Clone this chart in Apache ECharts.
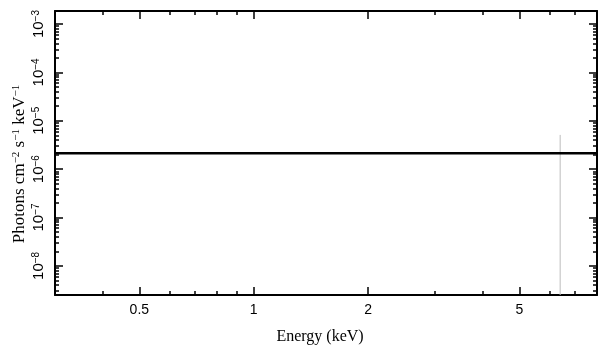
<!DOCTYPE html>
<html><head><meta charset="utf-8">
<script src="https://cdn.jsdelivr.net/npm/echarts@6/dist/echarts.min.js"></script>
<style>html,body{margin:0;padding:0;background:#fff}#c{width:609px;height:357px}</style>
</head><body><div id="c"></div>
<script>
// Data
const xRange = [0.3, 8];
const yRange = [2.5e-9, 1.86e-3];
const xMajorTicks = [0.5, 1, 2, 5];
const xMinorTicks = [0.4, 0.6, 0.7, 0.8, 0.9, 3, 4, 6, 7, 8];
const yMajorTicks = [1e-8, 1e-7, 1e-6, 1e-5, 1e-4, 1e-3];
const yMinorTicks = [];
for (let e = -9; e <= -3; e++) for (let m = 2; m <= 9; m++) yMinorTicks.push(m * Math.pow(10, e));
const modelEnergy = [0.3, 8];
const modelFlux = [2.13e-6, 2.13e-6];
const lineEnergy = [6.4, 6.4];
const lineFlux = [2.5e-9, 5.1e-6];

const serif = 'Liberation Serif';
const sans = 'Liberation Sans';
function pairs(xs, ys) { return xs.map((x, i) => [x, ys[i]]); }
function supLabel(v) {
  const e = Math.round(Math.log10(v));
  return '{b|10}{s|\u2212' + Math.abs(e) + '}';
}
const baseX = {
  type: 'log', logBase: 10, min: xRange[0], max: xRange[1],
  splitLine: { show: false }, axisLabel: { show: false },
  axisLine: { show: false }
};
const baseY = {
  type: 'log', logBase: 10, min: yRange[0], max: yRange[1],
  splitLine: { show: false }, axisLabel: { show: false },
  axisLine: { show: false }
};
const tickStyle = { color: '#000', width: 1.5 };
const xAxes = [
  Object.assign({}, baseX, {
    position: 'bottom',
    axisLine: { show: true, onZero: false, lineStyle: { color: '#000', width: 2 } },
    axisTick: { inside: true, length: 8, customValues: xMajorTicks, lineStyle: tickStyle },
    axisLabel: { show: true, customValues: xMajorTicks, margin: 8, color: '#000', fontFamily: sans, fontSize: 14,
      formatter: v => String(v) },
    name: 'Energy (keV)', nameLocation: 'middle', nameGap: 34, nameMoveOverlap: false,
    nameTextStyle: { fontFamily: serif, fontSize: 16, color: '#000', padding: [0, 12, 0, 0] }
  }),
  Object.assign({}, baseX, { position: 'bottom',
    axisTick: { inside: true, length: 4, customValues: xMinorTicks, lineStyle: tickStyle } }),
  Object.assign({}, baseX, { position: 'top',
    axisLine: { show: true, onZero: false, lineStyle: { color: '#000', width: 2 } },
    axisTick: { inside: true, length: 8, customValues: xMajorTicks, lineStyle: tickStyle } }),
  Object.assign({}, baseX, { position: 'top',
    axisTick: { inside: true, length: 4, customValues: xMinorTicks, lineStyle: tickStyle } })
];
const yAxes = [
  Object.assign({}, baseY, {
    position: 'left',
    axisLine: { show: true, onZero: false, lineStyle: { color: '#000', width: 2 } },
    axisTick: { inside: true, length: 8, customValues: yMajorTicks, lineStyle: tickStyle },
    axisLabel: { show: true, customValues: yMajorTicks, rotate: 90, margin: 9, color: '#000',
      formatter: supLabel,
      rich: { b: { fontFamily: sans, fontSize: 15, color: '#000' },
              s: { fontFamily: sans, fontSize: 10, color: '#000', verticalAlign: 'top', padding: [0, 0, 3, 0] } } },
    name: '{t|Photons cm}{s|\u22122}{t| s}{s|\u22121}{t| keV}{s|\u22121}',
    nameLocation: 'middle', nameGap: 27, nameRotate: 90, nameMoveOverlap: false,
    nameTextStyle: { padding: [0, 22, 0, 0], rich: { t: { fontFamily: serif, fontSize: 17, color: '#000' },
      s: { fontFamily: serif, fontSize: 11, color: '#000', verticalAlign: 'top', padding: [0, 0, 3, 0] } } }
  }),
  Object.assign({}, baseY, { position: 'left',
    axisTick: { inside: true, length: 4, customValues: yMinorTicks, lineStyle: tickStyle } }),
  Object.assign({}, baseY, { position: 'right',
    axisLine: { show: true, onZero: false, lineStyle: { color: '#000', width: 2 } },
    axisTick: { inside: true, length: 8, customValues: yMajorTicks, lineStyle: tickStyle } }),
  Object.assign({}, baseY, { position: 'right',
    axisTick: { inside: true, length: 4, customValues: yMinorTicks, lineStyle: tickStyle } })
];
const chart = echarts.init(document.getElementById('c'), null, { renderer: 'canvas' });
chart.setOption({
  animation: false,
  backgroundColor: '#fff',
  grid: { left: 55, right: 12, top: 11, bottom: 62, containLabel: false, outerBoundsMode: 'none' },
  xAxis: xAxes,
  yAxis: yAxes,
  series: [
    { type: 'line', xAxisIndex: 0, yAxisIndex: 0, data: pairs(lineEnergy, lineFlux), showSymbol: false,
      lineStyle: { color: '#bdbdbd', width: 1 }, z: 1 },
    { type: 'line', xAxisIndex: 0, yAxisIndex: 0, data: pairs(modelEnergy, modelFlux), showSymbol: false,
      lineStyle: { color: '#000', width: 2.5 }, z: 2 }
  ]
});
</script></body></html>
